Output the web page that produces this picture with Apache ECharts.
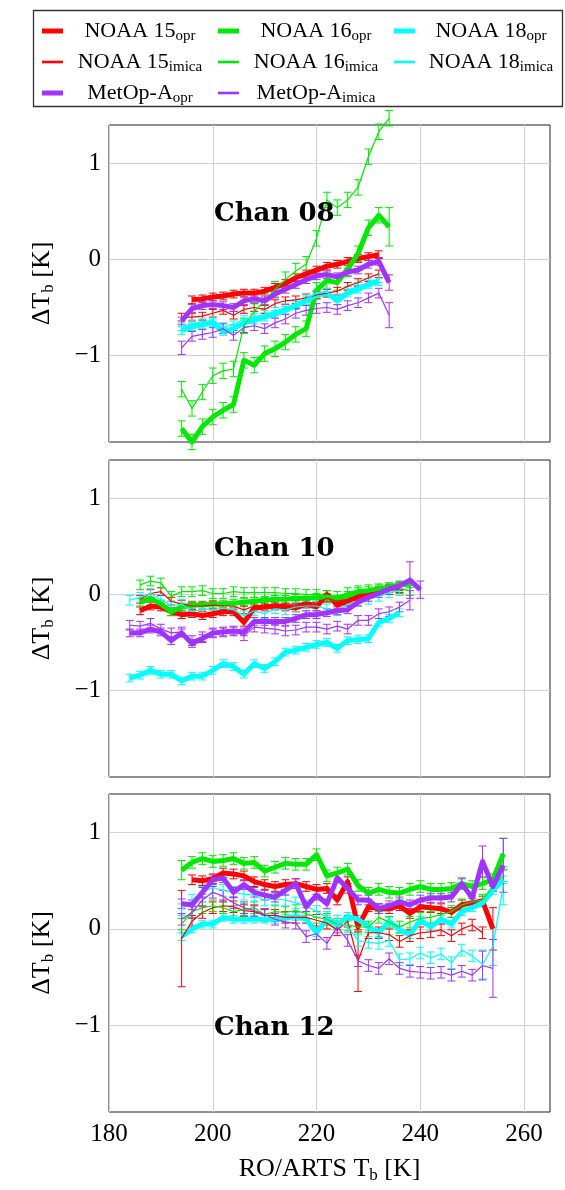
<!DOCTYPE html>
<html><head><meta charset="utf-8">
<script src="https://cdn.jsdelivr.net/npm/echarts@6/dist/echarts.min.js"></script>
<style>html,body{margin:0;padding:0;background:#fff}#c{width:565px;height:1190px}</style>
</head><body><div id="c"></div><script>
// ---------- series meta (order = plotting/legend order) ----------
const SERIES_LABEL = ['NOAA 15','NOAA 16','NOAA 18','NOAA 15','NOAA 16','NOAA 18','MetOp-A','MetOp-A'];
const SERIES_SUB   = ['opr','opr','opr','imica','imica','imica','opr','imica'];
const SERIES_COLOR = ['#ff0000','#00e800','#00ffff','#ff0000','#00e800','#00ffff','#a033ff','#a033ff'];
const SERIES_WIDTH = [5,5,5,1.2,1.2,1.2,5,1.2];
const PANEL_TITLES = ['Chan 08','Chan 10','Chan 12'];
const X_TICKS = [180,200,220,240,260];
const Y_TICKS = [-1,0,1];
const X_MIN = 180, X_MAX = 265, Y_MIN = -1.9, Y_MAX = 1.4, X_STEP = 2;

// ---------- Chan 08 ----------
const c08_start = [196,194,194,194,194,194,194,194];
const c08_n15o = [-0.42,-0.41,-0.39,-0.38,-0.36,-0.35,-0.35,-0.33,-0.29,-0.25,-0.19,-0.15,-0.11,-0.07,-0.05,-0.02,0.01,0.03,0.05];
const c08_n16o = [-1.76,-1.90,-1.74,-1.64,-1.57,-1.51,-1.05,-1.10,-0.98,-0.93,-0.86,-0.78,-0.72,-0.32,-0.22,-0.24,-0.10,0.06,0.33,0.46,0.34];
const c08_n18o = [-0.74,-0.70,-0.68,-0.66,-0.75,-0.72,-0.66,-0.63,-0.60,-0.57,-0.53,-0.48,-0.43,-0.37,-0.35,-0.43,-0.35,-0.31,-0.26,-0.23];
const c08_n15i = [-0.60,-0.60,-0.59,-0.56,-0.53,-0.58,-0.52,-0.50,-0.52,-0.46,-0.43,-0.42,-0.40,-0.37,-0.35,-0.33,-0.28,-0.24,-0.19,-0.15];
const c08_n16i = [-1.35,-1.55,-1.38,-1.21,-1.16,-1.14,-0.69,-0.54,-0.43,-0.31,-0.21,-0.12,-0.05,0.22,0.62,0.54,0.62,0.75,1.07,1.33,1.47];
const c08_n18i = [-0.70,-0.67,-0.65,-0.63,-0.70,-0.68,-0.62,-0.60,-0.57,-0.54,-0.50,-0.46,-0.41,-0.35,-0.34,-0.40,-0.32,-0.28,-0.24,-0.20];
const c08_mo   = [-0.64,-0.51,-0.48,-0.47,-0.48,-0.50,-0.43,-0.41,-0.43,-0.36,-0.31,-0.26,-0.21,-0.17,-0.16,-0.18,-0.13,-0.11,-0.05,-0.02,-0.24];
const c08_mi   = [-0.92,-0.80,-0.78,-0.76,-0.72,-0.79,-0.71,-0.69,-0.72,-0.66,-0.62,-0.56,-0.53,-0.51,-0.50,-0.52,-0.48,-0.45,-0.40,-0.35,-0.58];
const c08_err  = [0.04,0.08,0.04,0.04,0.08,0.04,0.04,0.05];
const c08_errExtra = [[1,20,0.2],[6,20,0.08],[7,20,0.13],[7,0,0.07]];

// ---------- Chan 10 ----------
const c10_start = [186,186,184,186,186,184,184,184];
const c10_n15o = [-0.17,-0.12,-0.13,-0.18,-0.21,-0.20,-0.22,-0.20,-0.18,-0.18,-0.29,-0.14,-0.13,-0.12,-0.13,-0.14,-0.10,-0.13,0.00,-0.11,-0.07,-0.02,0.01,0.04,0.06,0.08];
const c10_n16o = [-0.08,-0.04,-0.10,-0.18,-0.13,-0.11,-0.11,-0.10,-0.10,-0.09,-0.08,-0.07,-0.06,-0.05,-0.05,-0.04,-0.04,-0.03,-0.03,-0.05,-0.01,0.03,0.04,0.06,0.08,0.10,0.11];
const c10_n18o = [-0.87,-0.84,-0.79,-0.83,-0.83,-0.90,-0.85,-0.85,-0.79,-0.72,-0.75,-0.83,-0.72,-0.77,-0.70,-0.60,-0.58,-0.55,-0.52,-0.50,-0.56,-0.48,-0.47,-0.46,-0.29,-0.25,-0.19];
const c10_n15i = [-0.05,0.01,0.03,-0.07,-0.10,-0.12,-0.12,-0.11,-0.12,-0.12,-0.16,-0.12,-0.11,-0.10,-0.10,-0.10,-0.08,-0.09,-0.04,-0.07,-0.05,-0.02,0.01,0.03,0.04,0.06];
const c10_n16i = [0.10,0.14,0.12,-0.02,0.03,0.03,0.04,0.01,0.01,0.03,0.02,0.02,0.02,0.02,0.01,0.01,0.00,0.00,-0.01,-0.02,0.02,0.04,0.05,0.06,0.07,0.06,0.04];
const c10_n18i = [-0.06,-0.03,0.01,-0.05,-0.12,-0.10,-0.18,-0.15,-0.16,-0.14,-0.16,-0.22,-0.17,-0.20,-0.15,-0.16,-0.13,-0.12,-0.12,-0.15,-0.17,-0.10,-0.07,-0.05,-0.02,0.02,0.04];
const c10_mo   = [-0.40,-0.40,-0.36,-0.39,-0.48,-0.40,-0.51,-0.46,-0.40,-0.39,-0.38,-0.39,-0.28,-0.28,-0.28,-0.28,-0.25,-0.21,-0.21,-0.19,-0.17,-0.16,-0.08,-0.03,0.01,0.06,0.09,0.15,0.05];
const c10_mi   = [-0.32,-0.33,-0.30,-0.36,-0.40,-0.39,-0.48,-0.44,-0.40,-0.39,-0.38,-0.43,-0.34,-0.35,-0.36,-0.38,-0.37,-0.34,-0.34,-0.36,-0.33,-0.36,-0.27,-0.27,-0.20,-0.18,-0.13,-0.06];
const c10_err  = [0.04,0.04,0.04,0.04,0.05,0.05,0.04,0.05];
const c10_errExtra = [[6,27,0.19],[6,28,0.09],[7,27,0.1]];

// ---------- Chan 12 ----------
const c12_start = [196,194,194,194,194,194,194,194];
const c12_n15o = [0.51,0.50,0.52,0.58,0.57,0.55,0.49,0.46,0.44,0.46,0.47,0.44,0.41,0.42,0.30,0.49,0.02,0.23,0.21,0.21,0.24,0.16,0.23,0.22,0.21,0.17,0.25,0.27,0.29,0.00];
const c12_n16o = [0.61,0.69,0.73,0.70,0.71,0.73,0.68,0.69,0.60,0.64,0.68,0.67,0.67,0.77,0.55,0.58,0.62,0.45,0.37,0.41,0.38,0.37,0.41,0.44,0.41,0.41,0.42,0.47,0.44,0.47,0.51,0.78];
const c12_n18o = [-0.08,0.00,0.05,0.05,0.12,0.10,0.10,0.10,0.10,0.10,0.11,0.13,0.10,-0.04,0.10,0.04,0.13,0.10,0.02,-0.04,0.08,-0.01,-0.06,0.09,0.02,0.10,0.05,0.18,0.22,0.27,0.40,0.51];
const c12_n15i = [-0.10,0.08,0.17,0.22,0.24,0.23,0.19,0.18,0.14,0.14,0.12,0.12,0.12,0.09,0.06,-0.01,0.08,-0.33,-0.04,-0.04,-0.06,-0.13,-0.07,-0.04,-0.03,-0.01,-0.07,0.00,0.04,-0.04];
const c12_n16i = [0.05,0.18,0.22,0.24,0.22,0.18,0.20,0.22,0.15,0.18,0.17,0.19,0.16,0.12,0.10,0.05,0.04,0.02,0.02,0.12,0.07,0.02,0.07,0.11,0.12,0.15,0.18,0.25,0.28,0.30,0.45,0.55];
const c12_n18i = [0.20,0.30,0.38,0.43,0.40,0.38,0.36,0.35,0.30,0.31,0.30,0.27,0.24,0.18,0.12,0.08,0.02,-0.12,-0.14,-0.15,-0.12,-0.32,-0.31,-0.25,-0.30,-0.26,-0.35,-0.22,-0.28,-0.37,-0.18,0.45];
const c12_mo   = [0.26,0.25,0.38,0.51,0.53,0.38,0.46,0.38,0.35,0.33,0.40,0.47,0.23,0.35,0.26,0.53,0.42,0.30,0.30,0.21,0.24,0.28,0.25,0.30,0.32,0.32,0.33,0.47,0.32,0.70,0.44,0.66];
const c12_mi   = [0.10,0.17,0.30,0.38,0.34,0.27,0.22,0.19,0.15,0.10,0.07,0.06,-0.08,-0.05,-0.15,0.02,-0.12,-0.33,-0.38,-0.41,-0.31,-0.41,-0.44,-0.45,-0.46,-0.45,-0.48,-0.44,-0.48,-0.38,-0.41];
const c12_err  = [0.05,0.06,0.04,0.06,0.06,0.06,0.05,0.06];
const c12_errExtra = [[3,0,0.5],[3,17,0.32],[1,0,0.1],[1,31,0.16],[6,29,0.16],[6,31,0.28],[0,29,0.22],[7,30,0.3],[7,29,0.15],[5,29,0.15],[5,30,0.2],[5,31,0.2]];

const PANEL_YS = [
  [c08_n15o,c08_n16o,c08_n18o,c08_n15i,c08_n16i,c08_n18i,c08_mo,c08_mi],
  [c10_n15o,c10_n16o,c10_n18o,c10_n15i,c10_n16i,c10_n18i,c10_mo,c10_mi],
  [c12_n15o,c12_n16o,c12_n18o,c12_n15i,c12_n16i,c12_n18i,c12_mo,c12_mi]
];
const PANEL_START = [c08_start, c10_start, c12_start];
const PANEL_ERR = [c08_err, c10_err, c12_err];
const PANEL_ERR_EXTRA = [c08_errExtra, c10_errExtra, c12_errExtra];

// ---------- layout ----------
const SERIF = "'Liberation Serif', 'DejaVu Serif', serif";
const GRIDS = [
  {left:109, top:125, width:441, height:317},
  {left:109, top:460, width:441, height:317},
  {left:109, top:794, width:441, height:318}
];
const TITLE_POS = [[214,201],[214,536],[214,1015]];

const chart = echarts.init(document.getElementById('c'), null, {renderer:'canvas'});
const fmtY = v => (v < 0 ? '\u2212' + Math.abs(v) : String(v));
const subRich = (big, small) => ({
  a: {fontFamily: SERIF, fontSize: big, color:'#000', lineHeight: big + 4},
  s: {fontFamily: SERIF, fontSize: small, color:'#000', lineHeight: small - 3, verticalAlign:'bottom'}
});

const grid = GRIDS.map(g => Object.assign({show:true, borderColor:'#222', borderWidth:1, backgroundColor:'transparent'}, g));
const xAxis = GRIDS.map((g, i) => ({
  gridIndex: i, type:'value', min:X_MIN, max:X_MAX,
  axisLine:{show:false}, axisTick:{show:false, customValues:X_TICKS},
  axisLabel:{show: i === 2, customValues:X_TICKS, fontFamily:SERIF, fontSize:25, color:'#000', margin:10},
  splitLine:{show:true, lineStyle:{color:'#d0d0d0', width:1}},
  name: i === 2 ? '{a|RO/ARTS T}{s|b}{a| [K]}' : '',
  nameLocation:'middle', nameGap:42,
  nameTextStyle:{rich: subRich(26, 17)}
}));
const yAxis = GRIDS.map((g, i) => ({
  gridIndex: i, type:'value', min:Y_MIN, max:Y_MAX,
  axisLine:{show:false}, axisTick:{show:false, customValues:Y_TICKS},
  axisLabel:{customValues:Y_TICKS, formatter: fmtY, fontFamily:SERIF, fontSize:25, color:'#000', margin:8},
  splitLine:{show:true, lineStyle:{color:'#d0d0d0', width:1}},
  name:'{a|\u0394T}{s|b}{a| [K]}', nameLocation:'middle', nameGap:52, nameRotate:90,
  nameTextStyle:{rich: subRich(26, 17)}
}));

const series = [];
PANEL_YS.forEach((ysList, gi) => {
  ysList.forEach((ys, si) => {
    const pts = ys.map((y, k) => {
      let e = PANEL_ERR[gi][si];
      PANEL_ERR_EXTRA[gi].forEach(([s, idx, v]) => { if (s === si && idx === k) e = v; });
      return [PANEL_START[gi][si] + X_STEP * k, y, e];
    });
    const color = SERIES_COLOR[si];
    const name = SERIES_LABEL[si] + ' ' + SERIES_SUB[si];
    series.push({
      type:'line', name, xAxisIndex:gi, yAxisIndex:gi,
      data: pts.map(p => [p[0], p[1]]), symbol:'none', clip:false, animation:false,
      lineStyle:{color, width:SERIES_WIDTH[si], join:'round'}, itemStyle:{color}
    });
    series.push({
      type:'custom', name: name + ' err', xAxisIndex:gi, yAxisIndex:gi, clip:false, animation:false,
      data: pts, encode:{x:0, y:1},
      renderItem: (params, api) => {
        const x = api.value(0), y = api.value(1), e = api.value(2);
        const t = api.coord([x, y + e]), b = api.coord([x, y - e]);
        const cw = 4, st = {stroke: color, lineWidth: 1};
        return {type:'group', children:[
          {type:'line', shape:{x1:t[0], y1:t[1], x2:b[0], y2:b[1]}, style:st},
          {type:'line', shape:{x1:t[0]-cw, y1:t[1], x2:t[0]+cw, y2:t[1]}, style:st},
          {type:'line', shape:{x1:b[0]-cw, y1:b[1], x2:b[0]+cw, y2:b[1]}, style:st}
        ]};
      }
    });
  });
});

// legend (drawn as graphic, 3 columns)
const LEG_ROW_Y = [31, 62, 93];
const LEG_ICON_X = [42, 218, 394];
const LEG_TEXT_CX = [140, 316, 491];
const legendEls = [{type:'rect', shape:{x:33.5, y:10.5, width:529, height:96}, style:{fill:'#fff', stroke:'#333', lineWidth:1.3}}];
SERIES_LABEL.forEach((lab, si) => {
  const row = Math.floor(si / 3), col = si % 3;
  const y = LEG_ROW_Y[row];
  legendEls.push({type:'line', shape:{x1:LEG_ICON_X[col], y1:y, x2:LEG_ICON_X[col] + 21, y2:y},
    style:{stroke:SERIES_COLOR[si], lineWidth: SERIES_WIDTH[si] > 2 ? 5 : 2.6}});
  legendEls.push({type:'text', x:LEG_TEXT_CX[col], y:y, style:{
    text:'{a|' + lab + '}{s|' + SERIES_SUB[si] + '}', align:'center', verticalAlign:'middle',
    rich: subRich(22, 15)}});
});

chart.setOption({
  animation:false,
  backgroundColor:'#fff',
  grid, xAxis, yAxis, series,
  title: PANEL_TITLES.map((t, i) => ({text:t, left:TITLE_POS[i][0], top:TITLE_POS[i][1], padding:0,
    textStyle:{fontFamily:"'DejaVu Serif', serif", fontWeight:'bold', fontSize:26, color:'#000'}})),
  graphic: legendEls
});
</script></body></html>
